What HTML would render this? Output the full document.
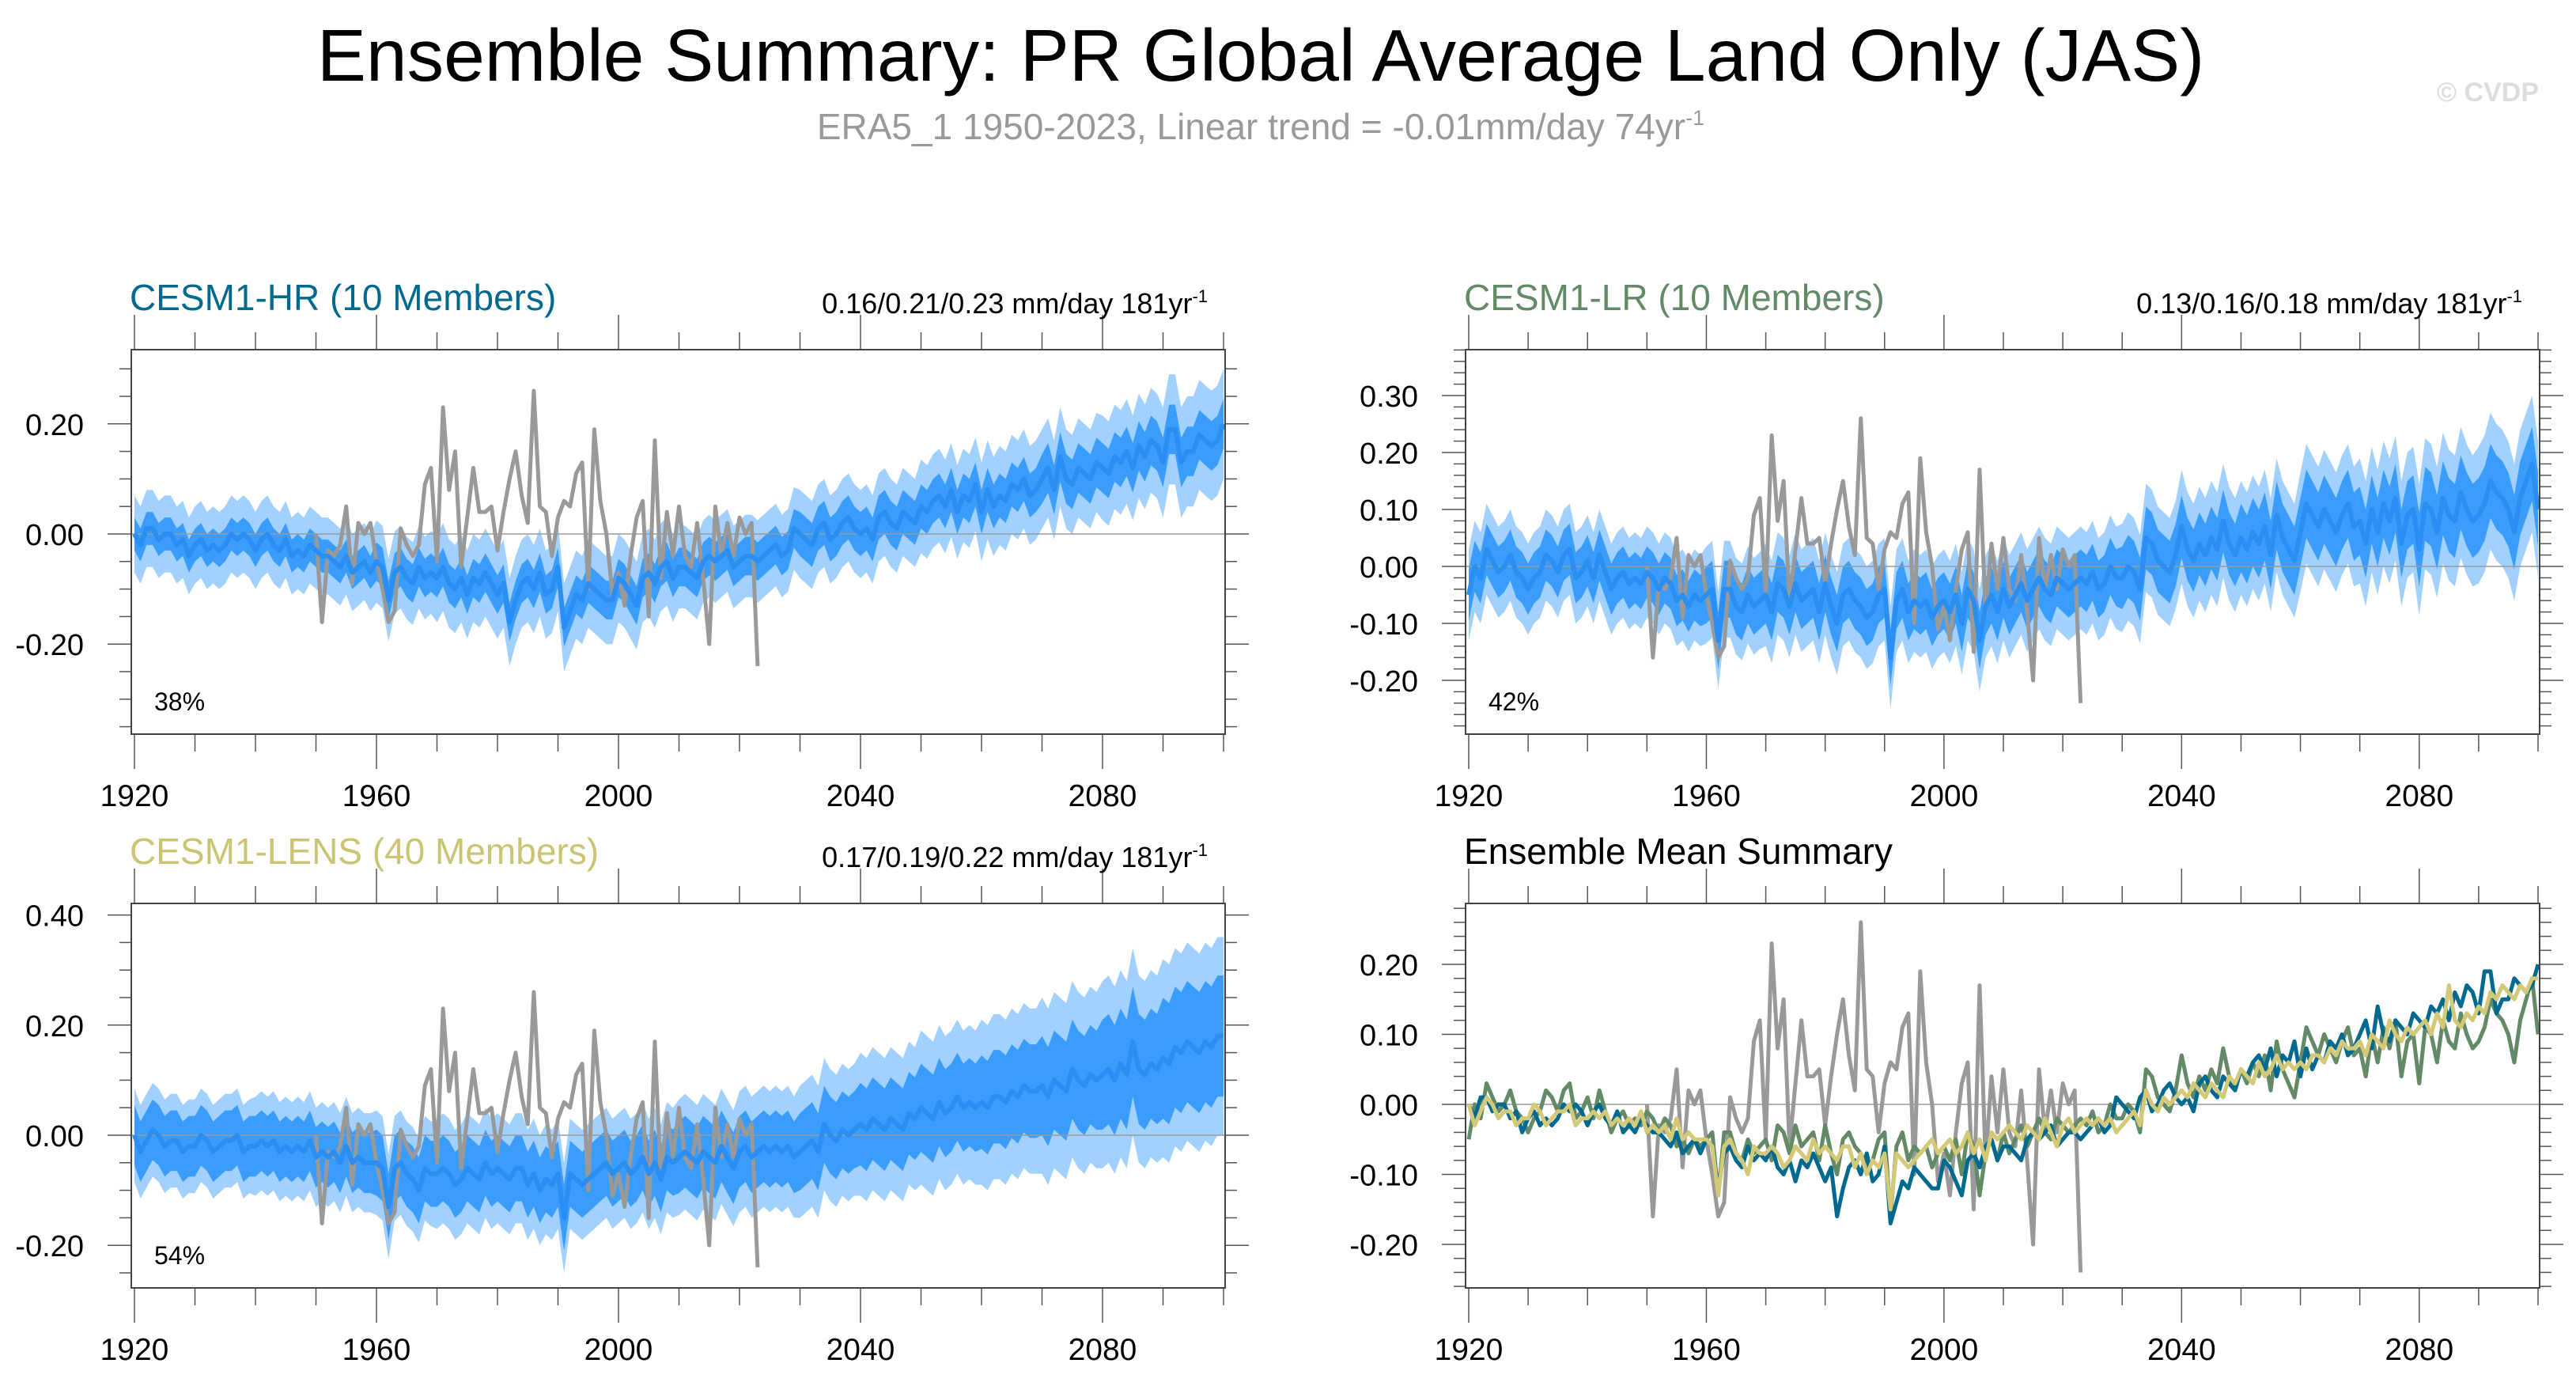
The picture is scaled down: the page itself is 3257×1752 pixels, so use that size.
<!DOCTYPE html>
<html><head><meta charset="utf-8">
<style>
html,body{margin:0;padding:0;background:#fff;}
svg{display:block;font-family:"Liberation Sans",Arial,sans-serif;}
</style></head>
<body>
<svg id="chart" width="3257" height="1752" viewBox="0 0 3257 1752" xmlns="http://www.w3.org/2000/svg">
<text x="1594" y="102" font-size="93" text-anchor="middle" fill="#000">Ensemble Summary: PR Global Average Land Only (JAS)</text>
<text x="1594" y="176" font-size="46" text-anchor="middle" fill="#999">ERA5_1 1950-2023, Linear trend = -0.01mm/day 74yr<tspan dy="-18" font-size="27">-1</tspan></text>
<text x="3210" y="128" font-size="34" text-anchor="end" fill="#ddd" font-weight="bold">© CVDP</text>
</svg>
<script>
const years = [];
for (let y = 1920; y <= 2100; y++) years.push(y);
const obsYears = [];
for (let y = 1950; y <= 2023; y++) obsYears.push(y);

const hrMean = [0.00,-0.02,0.01,0.01,-0.01,0.00,0.00,-0.02,-0.01,-0.04,
-0.02,-0.01,-0.03,-0.02,-0.03,-0.02,0.00,-0.01,0.00,-0.01,
-0.03,-0.01,0.00,-0.02,-0.03,-0.01,-0.04,-0.03,-0.04,-0.02,
-0.03,-0.04,-0.04,-0.05,-0.06,-0.04,-0.07,-0.06,-0.05,-0.07,
-0.05,-0.06,-0.12,-0.07,-0.06,-0.08,-0.09,-0.06,-0.08,-0.07,
-0.08,-0.06,-0.09,-0.10,-0.08,-0.11,-0.08,-0.09,-0.07,-0.09,
-0.11,-0.09,-0.16,-0.12,-0.09,-0.08,-0.10,-0.07,-0.11,-0.10,
-0.06,-0.17,-0.14,-0.11,-0.12,-0.09,-0.10,-0.11,-0.12,-0.12,
-0.08,-0.09,-0.11,-0.13,-0.08,-0.07,-0.09,-0.06,-0.05,-0.08,
-0.06,-0.06,-0.07,-0.08,-0.05,-0.04,-0.05,-0.04,-0.03,-0.06,
-0.05,-0.04,-0.04,-0.05,-0.04,-0.03,-0.02,-0.04,-0.03,0.01,
0.00,-0.01,-0.02,0.01,0.02,-0.01,0.00,0.02,0.03,0.01,
0.00,0.01,-0.01,0.03,0.04,0.02,0.01,0.04,0.03,0.02,
0.05,0.04,0.06,0.07,0.05,0.08,0.04,0.07,0.06,0.09,
0.04,0.08,0.05,0.07,0.06,0.09,0.08,0.10,0.07,0.08,
0.10,0.12,0.08,0.14,0.10,0.09,0.12,0.11,0.10,0.13,
0.12,0.11,0.14,0.13,0.15,0.12,0.16,0.14,0.17,0.16,
0.13,0.19,0.19,0.13,0.15,0.15,0.18,0.17,0.16,0.17,
0.20];
const lrMean = [-0.05,0.00,-0.02,0.03,0.01,-0.01,0.00,0.02,-0.01,-0.02,
-0.04,-0.02,-0.01,0.02,0.01,-0.01,0.02,0.03,-0.02,-0.01,
0.01,-0.02,0.02,-0.01,-0.04,-0.02,-0.01,-0.03,-0.02,-0.03,
-0.01,-0.02,-0.04,-0.02,-0.03,-0.06,-0.05,-0.07,-0.05,-0.06,
-0.05,-0.04,-0.13,-0.04,-0.04,-0.07,-0.08,-0.05,-0.07,-0.06,
-0.05,-0.08,-0.03,-0.04,-0.07,-0.03,-0.06,-0.05,-0.04,-0.08,
-0.03,-0.07,-0.10,-0.05,-0.04,-0.06,-0.07,-0.09,-0.08,-0.05,
-0.04,-0.16,-0.06,-0.04,-0.08,-0.06,-0.07,-0.06,-0.09,-0.07,
-0.06,-0.08,-0.05,-0.10,-0.04,-0.06,-0.13,-0.07,-0.05,-0.08,
-0.04,-0.07,-0.05,-0.03,-0.06,-0.04,-0.02,-0.04,-0.05,-0.02,
-0.03,-0.04,-0.03,-0.02,-0.03,-0.01,-0.04,-0.03,0.00,-0.02,
-0.02,0.00,-0.01,-0.04,0.05,0.04,0.01,0.00,-0.01,0.02,
0.07,0.03,0.01,0.04,0.02,0.05,0.03,0.08,0.04,0.02,
0.05,0.03,0.06,0.04,0.07,0.02,0.09,0.05,0.03,0.01,
0.06,0.11,0.09,0.07,0.10,0.08,0.06,0.09,0.11,0.07,
0.08,0.04,0.10,0.06,0.11,0.08,0.12,0.04,0.09,0.10,
0.03,0.11,0.10,0.06,0.12,0.09,0.08,0.13,0.10,0.08,
0.09,0.11,0.15,0.13,0.12,0.10,0.06,0.12,0.15,0.18,
0.10];
const lensMean = [0.00,-0.03,-0.01,0.01,0.00,-0.02,-0.01,-0.01,-0.03,-0.02,
-0.02,0.00,-0.01,-0.03,-0.02,-0.01,-0.01,0.00,-0.03,-0.02,
-0.02,-0.01,-0.02,-0.01,-0.03,-0.02,-0.03,-0.02,-0.03,-0.01,
-0.04,-0.03,-0.04,-0.03,-0.05,-0.02,-0.05,-0.04,-0.05,-0.05,
-0.05,-0.06,-0.13,-0.06,-0.05,-0.07,-0.08,-0.10,-0.06,-0.07,
-0.07,-0.06,-0.07,-0.09,-0.08,-0.06,-0.07,-0.08,-0.05,-0.07,
-0.06,-0.07,-0.08,-0.06,-0.06,-0.09,-0.07,-0.10,-0.08,-0.09,
-0.07,-0.15,-0.07,-0.08,-0.09,-0.08,-0.07,-0.06,-0.05,-0.07,
-0.06,-0.05,-0.07,-0.06,-0.04,-0.07,-0.05,-0.08,-0.04,-0.05,
-0.04,-0.03,-0.04,-0.05,-0.03,-0.04,-0.05,-0.02,-0.04,-0.06,
-0.03,-0.02,-0.04,-0.03,-0.02,-0.03,-0.02,-0.03,-0.02,-0.04,
-0.03,-0.02,-0.01,-0.03,0.02,0.00,-0.01,0.01,0.00,0.01,
0.02,0.01,0.03,0.02,0.01,0.03,0.02,0.01,0.04,0.03,
0.05,0.04,0.03,0.06,0.04,0.05,0.07,0.05,0.06,0.05,
0.06,0.05,0.07,0.07,0.06,0.08,0.07,0.09,0.08,0.08,
0.09,0.07,0.10,0.09,0.08,0.12,0.10,0.09,0.11,0.10,
0.11,0.12,0.10,0.13,0.11,0.17,0.12,0.11,0.13,0.12,
0.14,0.13,0.16,0.15,0.17,0.16,0.15,0.17,0.16,0.18,
0.18];
const obsValues = [0.00,-0.16,-0.03,-0.04,-0.02,0.05,-0.09,0.02,0.00,0.02,
-0.05,-0.10,-0.16,-0.14,0.01,-0.02,-0.04,-0.02,0.09,0.12,
-0.05,0.23,0.08,0.15,-0.06,0.03,0.12,0.04,0.04,0.05,
-0.03,0.04,0.10,0.15,0.07,0.02,0.26,0.05,0.04,-0.04,
0.03,0.06,0.05,0.11,0.13,-0.10,0.19,0.06,0.00,-0.11,
-0.07,-0.13,-0.04,0.03,0.06,-0.15,0.17,-0.08,0.04,-0.04,
0.05,-0.04,-0.06,0.02,-0.08,-0.20,0.05,-0.04,0.02,-0.04,
0.03,0.00,0.02,-0.24];
// ensemble spread half-widths per decade (1920s..2100)
const hrInner = [0.03,0.03,0.03,0.03,0.035,0.035,0.035,0.035,0.035,0.035,0.035,0.04,0.04,0.04,0.04,0.045,0.045,0.045,0.045];
const hrOuter = [0.07,0.07,0.07,0.07,0.075,0.08,0.08,0.08,0.08,0.075,0.075,0.08,0.08,0.085,0.09,0.09,0.095,0.10,0.10];
const lrInner = [0.045,0.045,0.045,0.045,0.05,0.05,0.05,0.05,0.05,0.05,0.05,0.055,0.055,0.06,0.06,0.06,0.065,0.065,0.065];
const lrOuter = [0.08,0.08,0.08,0.08,0.085,0.09,0.09,0.09,0.09,0.09,0.09,0.095,0.10,0.10,0.105,0.11,0.115,0.12,0.12];
const lensInner = [0.055,0.055,0.055,0.055,0.06,0.06,0.06,0.06,0.06,0.065,0.065,0.07,0.075,0.08,0.085,0.09,0.10,0.11,0.11];
const lensOuter = [0.085,0.085,0.09,0.09,0.095,0.10,0.10,0.10,0.10,0.105,0.11,0.12,0.13,0.14,0.15,0.16,0.17,0.18,0.18];

const NS = "http://www.w3.org/2000/svg";
const svg = document.getElementById("chart");
function mk(tag, attrs, parent) {
  const e = document.createElementNS(NS, tag);
  for (const k in attrs) e.setAttribute(k, attrs[k]);
  (parent || svg).appendChild(e);
  return e;
}

function panel(cfg) {
  const g = mk("g", {});
  
  
  const L = cfg.left, R = cfg.right, T = 442 + cfg.dy, B = 928 + cfg.dy;
  const x0 = L + 4, x1 = R - 2;
  const xs = y => x0 + (y - 1920) / 180 * (x1 - x0);
  const ys = v => cfg.zeroY + cfg.dy - v * cfg.perTenth * 10;
  for (let y = 1920; y <= 2100; y += 10) {
    const major = (y - 1920) % 40 === 0;
    const len = major ? 44 : 22;
    const t1 = mk("line", {x1: xs(y), x2: xs(y), y1: T - len, y2: T, stroke: "#555", "stroke-width": 1.5}, g);
    
    
    const t2 = mk("line", {x1: xs(y), x2: xs(y), y1: B, y2: B + len, stroke: "#555", "stroke-width": 1.5}, g);
    
    
    if (major && y < 2100) {
      const tl = mk("text", {x: xs(y), y: B + 91, "font-size": 39, "text-anchor": "middle"}, g);
      
      
      tl.textContent = y;
    }
  }
  const step = cfg.minor;
  const vmin = (cfg.zeroY + cfg.dy - B) / (cfg.perTenth * 10);
  const vmax = (cfg.zeroY + cfg.dy - T) / (cfg.perTenth * 10);
  for (let k = Math.ceil(vmin / step - 1e-6); k * step <= vmax + 1e-6; k++) {
    const v = k * step;
    const isMajor = Math.abs(Math.round(v / cfg.major) * cfg.major - v) < 1e-6;
    const len = isMajor ? 30 : 15;
    const yy = ys(v);
    const a = mk("line", {x1: L - len, x2: L, y1: yy, y2: yy, stroke: "#555", "stroke-width": 1.5}, g);
    
    
    const b = mk("line", {x1: R, x2: R + len, y1: yy, y2: yy, stroke: "#555", "stroke-width": 1.5}, g);
    
    
    if (isMajor) {
      const tl = mk("text", {x: L - 60, y: yy + 14, "font-size": 38, "text-anchor": "end"}, g);
      
      
      tl.textContent = v.toFixed(2);
    }
  }
  if (cfg.mean) {
    const band = (w, fill, nm) => {
      let up = "", lo = "";
      years.forEach((y, i) => { const d = Math.floor((y - 1920) / 10); up += (i ? "L" : "M") + xs(y) + "," + ys(cfg.mean[i] + w[d]); });
      for (let i = years.length - 1; i >= 0; i--) { const d = Math.floor((years[i] - 1920) / 10); lo += "L" + xs(years[i]) + "," + ys(cfg.mean[i] - w[d]); }
      const p = mk("path", {d: up + lo + "Z", fill: fill, stroke: "none"}, g);
      
      
    };
    band(cfg.outer, "#a3d1ff", "outer-spread-band");
    band(cfg.inner, "#3a9dfb", "inner-spread-band");
  }
  const zl = mk("line", {x1: L, x2: R, y1: ys(0), y2: ys(0), stroke: "#999", "stroke-width": 1.5}, g);
  
  
  const line = (arr, yrs, col, w, nm) => {
    const d = arr.map((v, i) => (i ? "L" : "M") + xs(yrs[i]) + "," + ys(v)).join("");
    const p = mk("path", {d: d, fill: "none", stroke: col, "stroke-width": w, "stroke-linejoin": "round"}, g);
    
    
  };
  line(obsValues, obsYears, "#999999", 5, "observations-line");
  if (cfg.mean) line(cfg.mean, years, "#2a8ef2", 6, "ensemble-mean-line");
  if (cfg.summary) {
    line(lrMean, years, "#638a66", 5, "cesm1-lr-mean-line");
    line(hrMean, years, "#00698f", 5, "cesm1-hr-mean-line");
    line(lensMean, years, "#d4c977", 5, "cesm1-lens-mean-line");
  }
  const box = mk("rect", {x: L, y: T, width: R - L, height: B - T, fill: "none", stroke: "#444", "stroke-width": 2}, g);
  
  
  const title = mk("text", {x: L - 2, y: T - 50, "font-size": 46, fill: cfg.color}, g);
  
  
  title.textContent = cfg.title;
  if (cfg.trend) {
    const tr = mk("text", {x: R - 22, y: T - 46, "font-size": 36, "text-anchor": "end"}, g);
    
    
    tr.innerHTML = cfg.trend + ' mm/day 181yr<tspan dy="-14" font-size="22">-1</tspan>';
    const pc = mk("text", {x: L + 29, y: B - 30, "font-size": 32}, g);
    
    
    pc.textContent = cfg.pct;
  }
}

panel({name: "cesm1-hr-panel", left: 166, right: 1549, dy: 0, zeroY: 675, perTenth: 69.6, major: 0.2, minor: 0.05,
  mean: hrMean, inner: hrInner, outer: hrOuter, title: "CESM1-HR (10 Members)", color: "#00698f", trend: "0.16/0.21/0.23", pct: "38%"});
panel({name: "cesm1-lr-panel", left: 1853, right: 3211, dy: 0, zeroY: 716, perTenth: 72, major: 0.1, minor: 0.02,
  mean: lrMean, inner: lrInner, outer: lrOuter, title: "CESM1-LR (10 Members)", color: "#638a66", trend: "0.13/0.16/0.18", pct: "42%"});
panel({name: "cesm1-lens-panel", left: 166, right: 1549, dy: 700, zeroY: 735, perTenth: 69.6, major: 0.2, minor: 0.05,
  mean: lensMean, inner: lensInner, outer: lensOuter, title: "CESM1-LENS (40 Members)", color: "#cbc472", trend: "0.17/0.19/0.22", pct: "54%"});
panel({name: "ensemble-mean-summary-panel", left: 1853, right: 3211, dy: 700, zeroY: 696, perTenth: 88.5, major: 0.1, minor: 0.02,
  summary: true, title: "Ensemble Mean Summary", color: "#000"});
</script>
</body></html>
